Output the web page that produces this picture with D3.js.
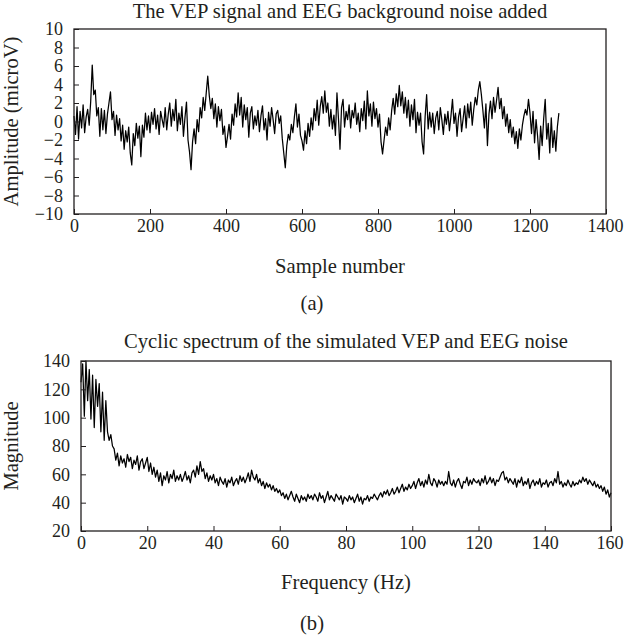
<!DOCTYPE html>
<html><head><meta charset="utf-8">
<script src="https://cdn.jsdelivr.net/npm/d3@7/dist/d3.min.js"></script>
<style>body{margin:0;background:#fff}svg{display:block}text{font-family:"Liberation Serif","DejaVu Serif",serif;fill:#231f20}</style>
</head><body><svg id="c" width="624" height="638"></svg>
<script>
// ---- Panel (a): VEP + EEG noise, one value every 4 samples ----
const vepStep = 4;
const vepValues = [
 0.6,-1.4,1.6,-1.9,1.1,-0.7,1.8,-1.2,0.5,1.3,-0.4,2.2,6.1,2.9,3.4,0.6,1.5,-1.6,1.4,-0.9,
 1.2,-1.3,0.8,2.0,3.2,0.2,1.1,-1.5,0.7,-0.9,0.3,-2.1,-0.4,-3.0,-1.0,-2.2,-0.6,-3.4,-4.7,-1.3,
 -2.6,-0.2,-1.8,-0.5,-3.8,-0.4,-1.7,0.9,-0.9,0.6,-1.2,1.0,-0.3,1.4,-0.8,0.7,-1.4,1.1,0.2,-0.6,
 1.5,-0.9,0.8,2.0,-0.5,1.3,0.1,2.4,-1.0,0.9,-0.3,1.6,-1.6,0.4,2.1,-2.0,-3.3,-5.2,-2.2,-0.8,
 -2.4,0.2,-1.1,1.5,0.4,2.6,1.2,3.1,4.9,2.8,1.4,2.5,0.3,1.9,-0.6,1.6,0.1,1.3,-1.4,-0.5,
 -2.8,-1.6,-0.3,-1.9,0.8,-0.4,1.9,0.5,3.1,0.7,2.6,-0.6,1.8,0.2,1.5,-1.7,0.9,1.6,-0.8,0.6,
 -0.4,1.2,-1.1,0.6,1.7,-0.9,0.3,-2.0,1.0,-0.5,1.5,0.2,-1.3,0.8,1.2,-0.2,0.6,-1.8,-3.4,-5.0,
 -2.6,-1.4,-2.0,-0.3,-1.2,0.5,1.9,-0.6,0.8,-1.5,-2.1,-3.1,-1.0,-2.4,-0.2,-1.6,0.4,-0.9,1.4,0.1,
 2.3,-0.4,1.6,2.7,0.9,3.3,1.0,2.0,-0.5,1.3,-0.8,0.7,-1.5,3.1,0.3,-3.0,1.5,2.4,-0.6,1.1,
 0.2,1.8,-0.7,1.2,0.4,2.0,-0.3,0.9,-1.1,1.4,0.1,2.2,-0.8,3.3,0.6,1.9,-0.5,2.1,0.3,1.4,
 -0.6,0.8,-2.2,-3.5,-2.0,-0.6,-1.5,0.4,-0.9,1.2,2.5,0.8,3.0,1.6,3.9,1.7,3.2,0.9,2.6,0.4,
 2.3,-0.5,1.8,0.2,2.4,-1.2,1.0,-0.4,0.9,-2.2,-3.5,0.5,2.9,-0.8,1.0,-0.6,0.9,-1.3,0.4,1.1,
 -0.9,1.5,0.2,-1.4,0.8,-0.3,1.1,-1.0,0.6,2.4,-0.2,0.9,-1.6,0.5,1.4,-1.1,0.3,1.7,-0.7,1.9,
 0.4,2.1,-0.4,1.3,2.6,1.8,3.4,4.3,2.9,1.2,-0.7,1.9,-2.6,0.8,2.2,0.3,2.6,1.0,2.3,3.7,
 1.4,2.5,0.3,1.6,-0.5,0.8,-1.2,0.2,-1.7,-0.6,-2.4,-1.1,-2.9,-0.8,-2.0,-0.4,0.6,1.3,0.7,2.4,
 0.9,-1.3,1.1,-2.3,0.2,-1.6,-4.1,-0.5,-2.6,0.3,2.4,-1.9,-0.2,-3.4,0.4,-2.8,-1.0,-3.2,-0.6,0.9
];
const vepXTicks = [0,200,400,600,800,1000,1200,1400];
const vepYTicks = [-10,-8,-6,-4,-2,0,2,4,6,8,10];

// ---- Panel (b): cyclic spectrum, one value every 0.5 Hz ----
const specStep = 0.5;
const specValues = [
 125,138,101,140,112,134,99,130,93,127,108,124,90,118,84,112,90,84,88,80,
 78,70,75,66,73,68,71,65,74,69,72,64,70,67,73,63,69,71,64,68,
 72,62,68,60,65,58,63,55,61,52,59,56,62,54,60,57,63,55,59,56,
 60,55,58,62,56,59,54,61,63,58,66,60,69,62,64,57,61,55,59,56,
 60,54,57,52,58,55,53,57,51,56,54,58,52,55,57,53,59,55,58,54,
 57,61,55,63,58,56,60,54,57,52,55,50,54,51,53,49,52,48,50,47,
 49,45,47,43,46,42,45,48,44,41,46,43,40,45,42,44,41,46,43,45,
 42,46,44,41,47,43,45,40,44,48,42,45,43,41,46,44,42,45,39,44,
 43,41,45,42,44,40,43,46,41,44,39,43,42,45,41,44,43,46,44,42,
 45,47,44,48,46,49,45,47,50,46,48,51,47,50,53,48,51,49,53,50,
 52,55,50,54,57,52,55,51,56,53,60,54,52,57,55,51,56,53,55,52,
 55,53,62,54,52,56,51,55,57,53,50,55,54,58,52,56,53,57,55,54,
 56,52,57,54,59,53,55,58,54,57,52,56,55,58,61,62,56,58,54,57,
 55,53,57,51,56,54,58,52,55,53,57,50,54,56,52,55,53,57,51,54,
 53,56,51,54,55,52,57,54,62,53,55,51,54,52,56,53,51,55,52,54,
 53,56,54,58,55,57,53,56,54,52,55,51,53,50,52,48,51,46,49,44,
 47
];
const specXTicks = [0,20,40,60,80,100,120,140,160];
const specYTicks = [20,40,60,80,100,120,140];

const svg = d3.select("#c");
svg.append("rect").attr("width",624).attr("height",638).attr("fill","#fff");

function panel(o){
  const g = svg.append("g");
  const x = d3.scaleLinear().domain(o.xd).range([o.l,o.r]);
  const y = d3.scaleLinear().domain(o.yd).range([o.b,o.t]);
  const line = d3.line().x((d,i)=>x(i*o.step)).y(d=>y(d));
  g.append("path").datum(o.data).attr("d",line).attr("fill","none")
   .attr("stroke","#000").attr("stroke-width",1.25).attr("stroke-linejoin","round");
  const ax = g.append("g").attr("transform",`translate(0,${o.b})`)
    .call(d3.axisBottom(x).tickValues(o.xt).tickSizeInner(-5).tickSizeOuter(0).tickPadding(5)
      .tickFormat(d=>String(d)));
  const ay = g.append("g").attr("transform",`translate(${o.l},0)`)
    .call(d3.axisLeft(y).tickValues(o.yt).tickSizeInner(-5).tickSizeOuter(0).tickPadding(o.ypad)
      .tickFormat(d=>d<0?"\u2212"+Math.abs(d):String(d)));
  [ax,ay].forEach(a=>{
    a.select(".domain").remove();
    a.selectAll("line").attr("stroke","#231f20").attr("stroke-width",1);
    a.selectAll("text").attr("font-size",o.fs).attr("font-family","'Liberation Serif',serif").attr("fill","#231f20");
  });
  // keep the last x tick label inside the page (it touches the right edge in the reference)
  const lastX = x(o.xt[o.xt.length-1]);
  ax.selectAll(".tick").filter(d=>d===o.xt[o.xt.length-1]).select("text")
    .attr("text-anchor","end").attr("x",623-lastX);
  g.append("rect").attr("x",o.l).attr("y",o.t).attr("width",o.r-o.l).attr("height",o.b-o.t)
   .attr("fill","none").attr("stroke","#231f20").attr("stroke-width",1.3);
  g.append("text").attr("x",(o.l+o.r)/2).attr("y",o.titleY).attr("text-anchor","middle")
   .attr("font-size",o.tfs).text(o.title);
  g.append("text").attr("x",(o.l+o.r)/2).attr("y",o.xlabY).attr("text-anchor","middle")
   .attr("font-size",o.tfs).text(o.xlab);
  g.append("text").attr("transform",`translate(${o.ylabX},${(o.t+o.b)/2}) rotate(-90)`)
   .attr("text-anchor","middle").attr("font-size",o.tfs).text(o.ylab);
  g.append("text").attr("x",312).attr("y",o.capY).attr("text-anchor","middle")
   .attr("font-size",o.tfs).text(o.cap);
}

panel({data:vepValues, step:vepStep, xd:[0,1400], yd:[-10,10], xt:vepXTicks, yt:vepYTicks,
  l:74, r:606, t:29, b:214, ypad:11, fs:18, tfs:20.6,
  title:"The VEP signal and EEG background noise added", titleY:18,
  xlab:"Sample number", xlabY:273, ylab:"Amplitude (microV)", ylabX:18, cap:"(a)", capY:310});

panel({data:specValues, step:specStep, xd:[0,160], yd:[20,140], xt:specXTicks, yt:specYTicks,
  l:81, r:611, t:361, b:531, ypad:11, fs:18, tfs:20.6,
  title:"Cyclic spectrum of the simulated VEP and EEG noise", titleY:348,
  xlab:"Frequency (Hz)", xlabY:589, ylab:"Magnitude", ylabX:18, cap:"(b)", capY:630});
</script></body></html>
